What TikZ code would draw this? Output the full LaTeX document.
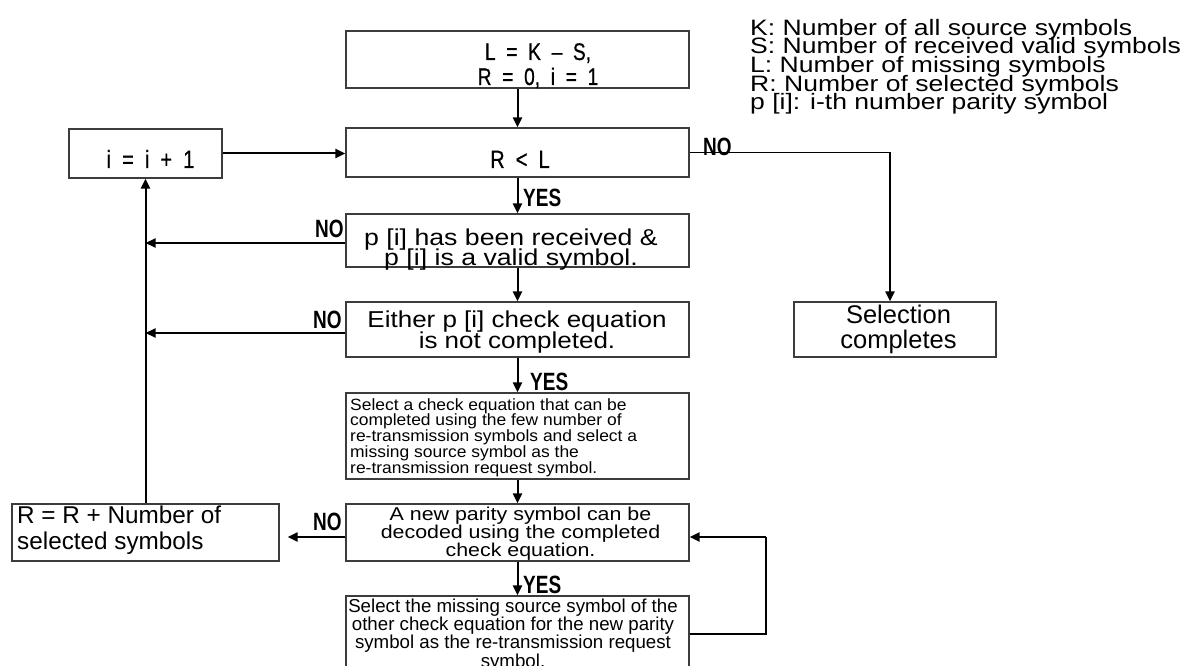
\documentclass[tikz,border=0pt]{standalone}
\usepackage{fontspec}
\setmainfont{Liberation Sans}
\usetikzlibrary{arrows.meta}
% text faces for the different boxes (widened / narrowed Arial metrics)
\newfontfamily\legendfont[FakeStretch=1.19]{Liberation Sans}
\newfontfamily\recvfont[FakeStretch=1.16]{Liberation Sans}
\newfontfamily\eithfont[FakeStretch=1.13]{Liberation Sans}
\newfontfamily\selafont[FakeStretch=1.07]{Liberation Sans}
\newfontfamily\newpfont[FakeStretch=1.15]{Liberation Sans}
\newfontfamily\condfont[FakeStretch=0.8,WordSpace=2,FakeBold=0.6]{Liberation Sans}
\newfontfamily\tagfont[FakeStretch=0.76]{Liberation Sans}
\definecolor{boxgray}{HTML}{3C3C3C}
\newcommand\fsz[2]{\fontsize{#1}{#2}\selectfont\lineskiplimit=-1000pt\lineskip=0pt}

\begin{document}
\begin{tikzpicture}[x=1pt,y=-1pt,
  box/.style={draw=boxgray, line width=1.2pt, inner sep=0pt, minimum width=343pt},
  txt/.style={inner sep=0pt, anchor=base, align=center},
  arr/.style={draw=black, line width=2pt, -{Triangle[length=10pt,width=9pt]}},
  thinline/.style={draw=black, line width=1.2pt},
  tag/.style={inner sep=0pt, anchor=base west, font=\tagfont\bfseries\fsz{25}{25}},
]
\useasboundingbox (0,0) rectangle (1187,666);

% ---------- boxes ----------
\node[box, minimum height=57pt] (init) at (517.5,59.5) {};
\node[box, minimum height=49pt] (rl)   at (517.5,152.5) {};
\node[box, minimum width=153pt, minimum height=49pt] (inc) at (145.5,153.5) {};
\node[box, minimum height=53pt] (recv) at (517.5,240.5) {};
\node[box, minimum height=55pt] (eith) at (517.5,329.5) {};
\node[box, minimum height=86pt] (sela) at (517.5,436) {};
\node[box, minimum height=57pt] (newp) at (517.5,532.5) {};
\node[box, minimum height=76pt] (selb) at (517.5,634) {};
\node[box, minimum width=202pt, minimum height=55pt] (done) at (895,329.5) {};
\node[box, minimum width=267pt, minimum height=57pt] (radd) at (145.5,532.5) {};

% ---------- box texts (anchored at the baseline of the last line) ----------
\node[txt, font=\condfont\fsz{24}{25}] (init-t) at (538,85) {L = K \textendash\ S,\\R = 0, i = 1};
\node[txt, font=\condfont\fsz{25}{25}] (rl-t) at (520,168) {R < L};
\node[txt, font=\condfont\fsz{25}{25}] (inc-t) at (150.5,168) {i = i + 1};
\node[txt, font=\recvfont\fsz{23}{20}] (recv-t) at (511,265)
  {p [i] has been received \&\\p [i] is a valid symbol.};
\node[txt, font=\eithfont\fsz{23}{21}] (eith-t) at (517,348)
  {Either p [i] check equation\\is not completed.};
\node[txt, anchor=base west, align=left, font=\selafont\fsz{16.3}{15.8}] (sela-t) at (350,473.3)
  {Select a check equation that can be\\completed using the few number of\\re-transmission symbols and select a\\missing source symbol as the\\re-transmission request symbol.};
\node[txt, font=\newpfont\fsz{18.6}{18.3}] (newp-t) at (520.5,556.7)
  {A new parity symbol can be\\decoded using the completed\\check equation.};
\node[txt, font=\fsz{18.7}{18.3}] (selb-t) at (513,667)
  {Select the missing source symbol of the\\other check equation for the new parity\\symbol as the re-transmission request\\symbol.};
\node[txt, font=\fsz{25.5}{25}] (done-t) at (898.5,348) {Selection\\completes};
\node[txt, anchor=base west, align=left, font=\fsz{24.3}{26}] (radd-t) at (17,549)
  {R = R + Number of\\selected symbols};

% ---------- legend ----------
\node[txt, anchor=base west, align=left, font=\legendfont\fsz{22.3}{18.7}] (legend) at (750,110)
  {K: Number of all source symbols\\S: Number of received valid symbols\\L: Number of missing symbols\\R: Number of selected symbols\\p [i]: i-th number parity symbol};

% ---------- connectors ----------
\draw[arr] (init.south) -- (rl.north);
\draw[arr] (inc.east) -- (inc.east -| rl.west);
\coordinate (nocorner) at (890,152.5);
\draw[thinline] (rl.east) -- (nocorner);
\draw[arr] (nocorner) -- (nocorner |- done.north);
\draw[arr] (rl.south) -- (recv.north);
\draw[arr] ([yshift=-2.5pt]recv.west) -- ([yshift=-2.5pt]recv.west -| inc.south);
\draw[arr] (recv.south) -- (eith.north);
\draw[arr] ([yshift=-3.5pt]eith.west) -- ([yshift=-3.5pt]eith.west -| inc.south);
\draw[arr] (eith.south) -- (sela.north);
\draw[arr] (sela.south) -- (newp.north);
\draw[arr, shorten >=8pt] ([yshift=-4.5pt]newp.west) -- ([yshift=-4.5pt]newp.west -| radd.east);
\draw[arr] (newp.south) -- (selb.north);
\draw[arr] (radd.north) -- (inc.south);
\coordinate (loopc) at (766,634);
\coordinate (newp-in) at ([yshift=-4.5pt]newp.east);
\draw[thinline] (selb.east) -- (loopc) -- (loopc |- newp-in);
\draw[arr] (loopc |- newp-in) -- (newp-in);

% ---------- branch labels ----------
\node[tag] (no-rl) at (703,156) {NO};
\node[tag] (yes-rl) at (523,207) {YES};
\node[tag] (no-recv) at (315,237) {NO};
\node[tag] (no-eith) at (313,328) {NO};
\node[tag] (yes-eith) at (530,390) {YES};
\node[tag] (no-newp) at (313,530) {NO};
\node[tag] (yes-newp) at (523,593) {YES};
\end{tikzpicture}
\end{document}
